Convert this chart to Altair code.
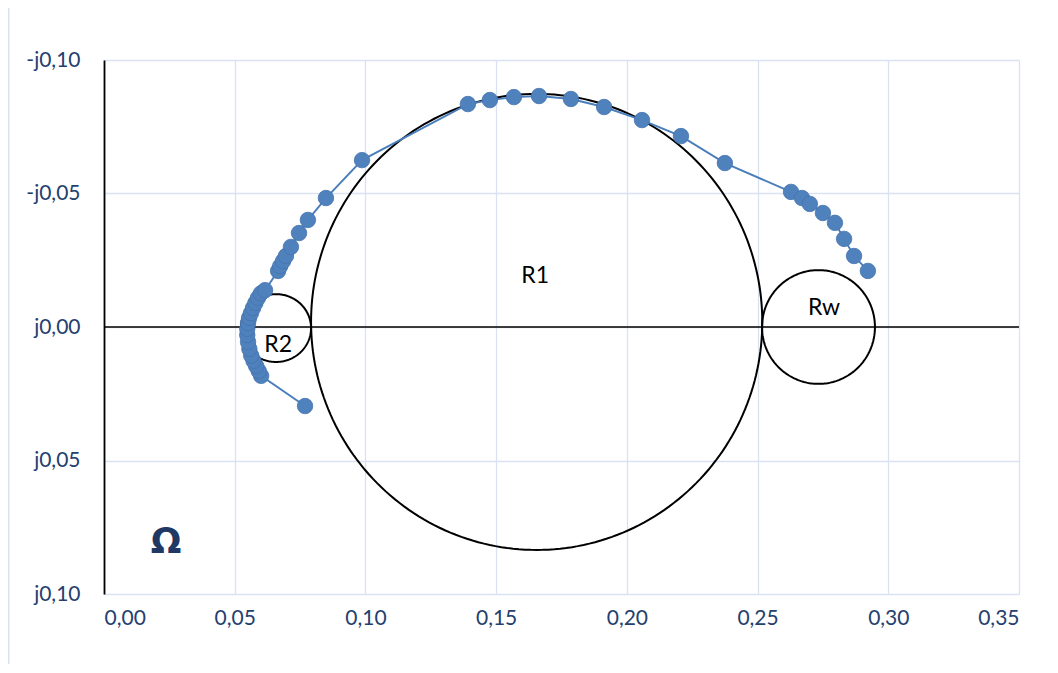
import altair as alt
import pandas as pd
import numpy as np

# Measured impedance points (real part, displayed imaginary value; positive = -j side, upward)
re_vals = [0.0769, 0.0601, 0.0592, 0.0582, 0.0572, 0.0563, 0.0556, 0.0551, 0.0548, 0.0548,
           0.0551, 0.0555, 0.0562, 0.0570, 0.0579, 0.0589, 0.0600, 0.0616, 0.0666, 0.0674,
           0.0685, 0.0696, 0.0715, 0.0746, 0.0780, 0.0849, 0.0987, 0.1392, 0.1476, 0.1568,
           0.1664, 0.1786, 0.1913, 0.2058, 0.2207, 0.2375, 0.2628, 0.2670, 0.2700, 0.2750,
           0.2796, 0.2831, 0.2869, 0.2922]
im_vals = [-0.0296, -0.0183, -0.0165, -0.0146, -0.0127, -0.0107, -0.0082, -0.0056, -0.0030, -0.0007,
           0.0015, 0.0034, 0.0052, 0.0071, 0.0090, 0.0109, 0.0126, 0.0138, 0.0210, 0.0228,
           0.0247, 0.0266, 0.0300, 0.0352, 0.0401, 0.0483, 0.0625, 0.0835, 0.0850, 0.0861,
           0.0865, 0.0854, 0.0824, 0.0775, 0.0715, 0.0614, 0.0506, 0.0483, 0.0461, 0.0427,
           0.0390, 0.0330, 0.0266, 0.0210]

# Equivalent-circuit circles
circ_names = ["R1", "R2", "Rw"]
circ_cx = [0.1655, 0.0658, 0.2733]
circ_cy = [0.0019, -0.0004, 0.0]
circ_rx = [0.0863, 0.0134, 0.0216]
circ_ry = [0.0854, 0.0127, 0.0213]

label_text = ["R1", "R2", "Rw"]
label_x = [0.1649, 0.0666, 0.2754]
label_y = [0.0191, -0.0066, 0.0071]

x_ticks = [0.0, 0.05, 0.10, 0.15, 0.20, 0.25, 0.30, 0.35]
y_ticks = [0.10, 0.05, 0.0, -0.05, -0.10]

pts = pd.DataFrame({"re": re_vals, "im": im_vals, "i": range(len(re_vals))})

rows = []
theta = np.linspace(0, 2 * np.pi, 241)
for n, cx, cy, rx, ry in zip(circ_names, circ_cx, circ_cy, circ_rx, circ_ry):
    for k, t in enumerate(theta):
        rows.append({"c": n, "k": k, "re": cx + rx * np.cos(t), "im": cy + ry * np.sin(t)})
circ = pd.DataFrame(rows)

labels = pd.DataFrame({"t": label_text, "re": label_x, "im": label_y})
zero = pd.DataFrame({"v": [0.0]})
omega = pd.DataFrame({"t": ["Ω"], "re": [0.0237], "im": [-0.0805]})

W, H = 915, 534
grid_col = "#D9E2F3"
lab_col = "#24406E"

xs = alt.Scale(domain=[0, 0.35], nice=False, zero=False)
ys = alt.Scale(domain=[-0.10, 0.10], nice=False, zero=False)

x_axis = alt.Axis(values=x_ticks, grid=True, gridColor=grid_col, gridWidth=1.3, domain=False,
                  ticks=False, labelPadding=13, labelFontSize=21, labelColor=lab_col,
                  labelFont="Lato", title=None,
                  labelExpr="replace(format(datum.value, '.2f'), '.', ',')")
y_axis = alt.Axis(values=y_ticks, grid=True, gridColor=grid_col, gridWidth=1.3, domain=True,
                  domainColor="black", domainWidth=1.8, ticks=False, labelPadding=24,
                  labelFontSize=21, labelColor=lab_col, labelFont="Lato", title=None,
                  labelExpr="(datum.value > 0.001 ? '-j' : 'j') + replace(format(abs(datum.value), '.2f'), '.', ',')")

border = alt.Chart(zero).mark_rect(fillOpacity=0, stroke=grid_col, strokeWidth=2).encode(
    x=alt.value(-95.5), x2=alt.value(1200), y=alt.value(-54), y2=alt.value(1000))

grid_base = alt.Chart(pts).mark_point(opacity=0).encode(
    x=alt.X("re:Q", scale=xs, axis=x_axis),
    y=alt.Y("im:Q", scale=ys, axis=y_axis))

zero_rule = alt.Chart(zero).mark_rule(color="black", strokeWidth=1.6).encode(
    y=alt.Y("v:Q", scale=ys), x=alt.value(0), x2=alt.value(W))

circles = alt.Chart(circ).mark_line(color="black", strokeWidth=2).encode(
    x=alt.X("re:Q", scale=xs), y=alt.Y("im:Q", scale=ys), detail="c:N", order="k:Q")

series_line = alt.Chart(pts).mark_line(color="#4A7EBB", strokeWidth=1.9).encode(
    x=alt.X("re:Q", scale=xs), y=alt.Y("im:Q", scale=ys), order="i:Q")

series_pts = alt.Chart(pts).mark_point(filled=True, size=240, color="#4F81BD", opacity=1,
                                        stroke="#4573AD", strokeWidth=0.8).encode(
    x=alt.X("re:Q", scale=xs), y=alt.Y("im:Q", scale=ys))

lbls = alt.Chart(labels).mark_text(fontSize=23, font="Lato", color="black").encode(
    x=alt.X("re:Q", scale=xs), y=alt.Y("im:Q", scale=ys), text="t:N")

om = alt.Chart(omega).mark_text(fontSize=36, font="DejaVu Sans", fontWeight="bold", color="#1F3864").encode(
    x=alt.X("re:Q", scale=xs), y=alt.Y("im:Q", scale=ys), text="t:N")

chart = alt.layer(border, grid_base, zero_rule, circles, series_line, series_pts, lbls, om).properties(
    width=W, height=H,
    autosize=alt.AutoSizeParams(type="none"),
    padding={"left": 96, "top": 52, "right": 31, "bottom": 70},
    background="white",
).configure_view(strokeWidth=0)

chart.save("out.html", embed_options={"renderer": "svg", "actions": False})
